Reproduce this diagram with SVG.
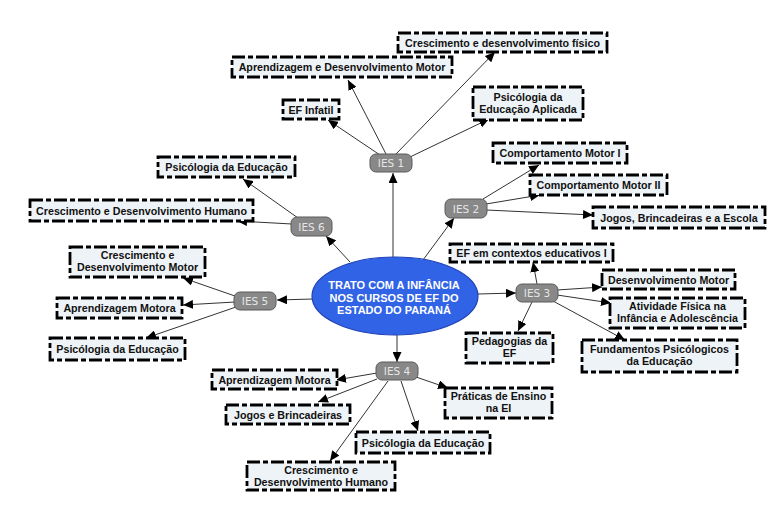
<svg xmlns="http://www.w3.org/2000/svg" width="782" height="509" viewBox="0 0 782 509">
<style>
.box{fill:#eef3f7;stroke:#000;stroke-width:2.8;stroke-dasharray:13 3 5 3}
.bt{font-family:"Liberation Sans",Arial,sans-serif;font-weight:bold;font-size:10.7px;fill:#111;text-anchor:middle}
.ies{fill:#888;stroke:#5a5a5a;stroke-width:1}
.it{font-family:"DejaVu Sans",Verdana,sans-serif;font-size:10.5px;fill:#e6e6e6;text-anchor:middle}
.ct{font-family:"Liberation Sans",Arial,sans-serif;font-weight:bold;font-size:11px;fill:#fff;text-anchor:middle}
.c{stroke:#333;stroke-width:1;fill:none;marker-end:url(#ah)}
</style>
<defs>
<marker id="ah" markerUnits="userSpaceOnUse" markerWidth="11" markerHeight="9" refX="10" refY="4.5" orient="auto">
<path d="M0,0 L10,4.5 L0,9 z" fill="#000"/>
</marker>
</defs>
<rect width="782" height="509" fill="#fff"/>
<g id="connectors">
<line class="c" x1="393" y1="257" x2="393" y2="173"/>
<line class="c" x1="423" y1="260" x2="454" y2="218"/>
<line class="c" x1="350" y1="262" x2="326" y2="236"/>
<line class="c" x1="313" y1="299" x2="277" y2="300"/>
<line class="c" x1="478" y1="294" x2="516" y2="293"/>
<line class="c" x1="397" y1="335" x2="397" y2="362"/>
<line class="c" x1="380" y1="155" x2="328" y2="120"/>
<line class="c" x1="386" y1="154" x2="348" y2="80"/>
<line class="c" x1="396" y1="154" x2="495" y2="52"/>
<line class="c" x1="410" y1="157" x2="489" y2="119"/>
<line class="c" x1="483" y1="199" x2="539" y2="165"/>
<line class="c" x1="486" y1="204" x2="540" y2="195"/>
<line class="c" x1="486" y1="210" x2="593" y2="215"/>
<line class="c" x1="298" y1="218" x2="243" y2="179"/>
<line class="c" x1="292" y1="224" x2="237" y2="221"/>
<line class="c" x1="235" y1="296" x2="183" y2="278"/>
<line class="c" x1="235" y1="302" x2="183" y2="305"/>
<line class="c" x1="236" y1="307" x2="146" y2="338"/>
<line class="c" x1="537" y1="284" x2="533" y2="262"/>
<line class="c" x1="557" y1="290" x2="602" y2="287"/>
<line class="c" x1="557" y1="295" x2="611" y2="303"/>
<line class="c" x1="553" y1="301" x2="625" y2="340"/>
<line class="c" x1="532" y1="302" x2="518" y2="331"/>
<line class="c" x1="377" y1="373" x2="336" y2="380"/>
<line class="c" x1="377" y1="379" x2="318" y2="402"/>
<line class="c" x1="388" y1="381" x2="330" y2="461"/>
<line class="c" x1="401" y1="381" x2="418" y2="431"/>
<line class="c" x1="416" y1="377" x2="448" y2="388"/>
</g>
<g id="center">
<ellipse cx="395" cy="296" rx="83" ry="39" fill="#3163e6" stroke="#1d40b5" stroke-width="1.2"/>
<text class="ct" x="394" y="289">TRATO COM A INFÂNCIA</text>
<text class="ct" x="394" y="301.5">NOS CURSOS DE EF DO</text>
<text class="ct" x="394" y="314">ESTADO DO PARANÁ</text>
</g>
<g id="ies1"><rect class="ies" x="370" y="154" width="42" height="18" rx="6"/><text class="it" x="391" y="167">IES 1</text></g>
<g id="ies2"><rect class="ies" x="445" y="199" width="42" height="19" rx="6"/><text class="it" x="466" y="212.5">IES 2</text></g>
<g id="ies3"><rect class="ies" x="516" y="284" width="42" height="18" rx="6"/><text class="it" x="537" y="297">IES 3</text></g>
<g id="ies4"><rect class="ies" x="376" y="362" width="42" height="18" rx="6"/><text class="it" x="397" y="375">IES 4</text></g>
<g id="ies5"><rect class="ies" x="234" y="292" width="42" height="18" rx="6"/><text class="it" x="255" y="305">IES 5</text></g>
<g id="ies6"><rect class="ies" x="291" y="217" width="41" height="19" rx="6"/><text class="it" x="311.5" y="230.5">IES 6</text></g>

<g id="n-cresc-fisico"><rect class="box" x="398" y="33" width="209" height="19"/><text class="bt" x="502.5" y="46.5">Crescimento e desenvolvimento físico</text></g>
<g id="n-aprend-desenv"><rect class="box" x="232" y="57" width="220" height="20"/><text class="bt" x="342" y="71">Aprendizagem e Desenvolvimento Motor</text></g>
<g id="n-ef-infatil"><rect class="box" x="283" y="100" width="56" height="19"/><text class="bt" x="311" y="113.5">EF Infatil</text></g>
<g id="n-psico-aplicada"><rect class="box" x="473" y="87" width="110" height="33"/><text class="bt" x="528" y="101">Psicólogia da</text><text class="bt" x="528" y="113">Educação Aplicada</text></g>

<g id="n-psico-6"><rect class="box" x="158" y="157" width="137" height="20"/><text class="bt" x="226.5" y="171">Psicólogia da Educação</text></g>
<g id="n-cresc-humano-6"><rect class="box" x="30" y="200" width="223" height="21"/><text class="bt" x="141.5" y="214.5">Crescimento e Desenvolvimento Humano</text></g>

<g id="n-comp1"><rect class="box" x="493" y="143" width="134" height="20"/><text class="bt" x="560" y="157">Comportamento Motor I</text></g>
<g id="n-comp2"><rect class="box" x="530" y="175" width="137" height="20"/><text class="bt" x="598.5" y="189">Comportamento Motor II</text></g>
<g id="n-jogos-escola"><rect class="box" x="593" y="207" width="172" height="21"/><text class="bt" x="679" y="221.5">Jogos, Brincadeiras e a Escola</text></g>

<g id="n-cresc-motor"><rect class="box" x="70" y="247" width="135" height="30"/><text class="bt" x="137.5" y="259">Crescimento e</text><text class="bt" x="137.5" y="271">Desenvolvimento Motor</text></g>
<g id="n-aprend-5"><rect class="box" x="57" y="298" width="125" height="20"/><text class="bt" x="119.5" y="312">Aprendizagem Motora</text></g>
<g id="n-psico-5"><rect class="box" x="50" y="338" width="135" height="22"/><text class="bt" x="117.5" y="353">Psicólogia da Educação</text></g>

<g id="n-ef-contextos"><rect class="box" x="450" y="244" width="163" height="18"/><text class="bt" x="531.5" y="257">EF em contextos educativos I</text></g>
<g id="n-desenv-motor"><rect class="box" x="602" y="270" width="133" height="19"/><text class="bt" x="668.5" y="283.5">Desenvolvimento Motor</text></g>
<g id="n-atividade"><rect class="box" x="610" y="298" width="135" height="30"/><text class="bt" x="677.5" y="310">Atividade Física na</text><text class="bt" x="677.5" y="322">Infância e Adolescência</text></g>
<g id="n-pedagogias"><rect class="box" x="466" y="333" width="87" height="30"/><text class="bt" x="509.5" y="345">Pedagogias da</text><text class="bt" x="509.5" y="357">EF</text></g>
<g id="n-fundamentos"><rect class="box" x="582" y="340" width="155" height="32"/><text class="bt" x="659.5" y="353">Fundamentos Psicólogicos</text><text class="bt" x="659.5" y="365">da Educação</text></g>

<g id="n-aprend-4"><rect class="box" x="212" y="370" width="125" height="19"/><text class="bt" x="274.5" y="383.5">Aprendizagem Motora</text></g>
<g id="n-jogos-4"><rect class="box" x="226" y="405" width="124" height="19"/><text class="bt" x="288" y="418.5">Jogos e Brincadeiras</text></g>
<g id="n-praticas"><rect class="box" x="445" y="388" width="107" height="30"/><text class="bt" x="498.5" y="400">Práticas de Ensino</text><text class="bt" x="498.5" y="412">na EI</text></g>
<g id="n-psico-4"><rect class="box" x="356" y="432" width="134" height="21"/><text class="bt" x="423" y="446.5">Psicólogia da Educação</text></g>
<g id="n-cresc-humano-4"><rect class="box" x="247" y="462" width="148" height="28"/><text class="bt" x="321" y="473.5">Crescimento e</text><text class="bt" x="321" y="485.5">Desenvolvimento Humano</text></g>
</svg>
